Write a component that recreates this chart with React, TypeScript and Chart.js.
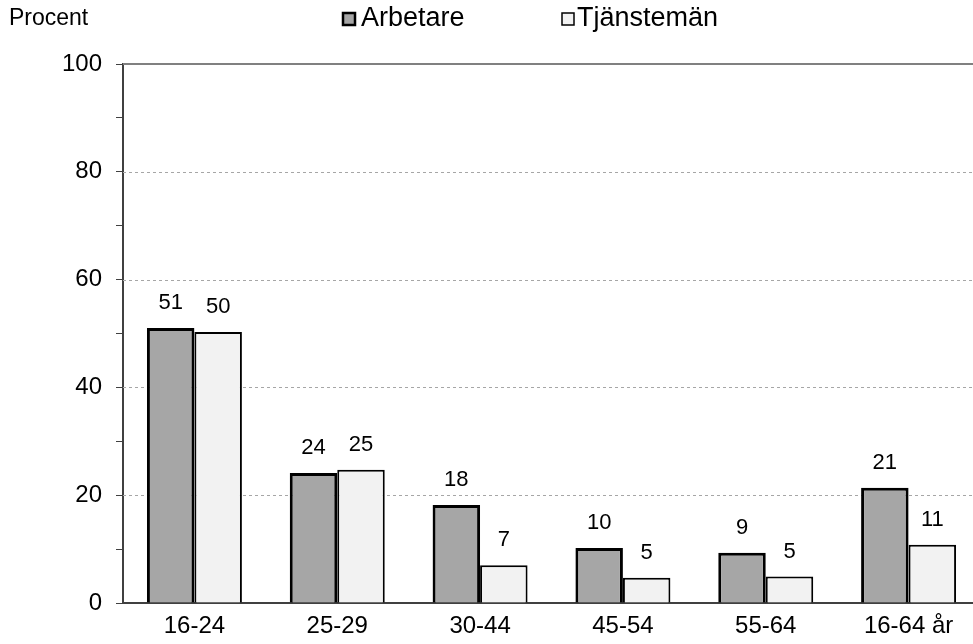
import React, { useEffect, useRef } from "react";
import { Chart, registerables } from "chart.js";

Chart.register(...registerables);

const categories = ["16-24", "25-29", "30-44", "45-54", "55-64", "16-64 år"];
const arbetare = [51.0, 24.1, 18.2, 10.2, 9.3, 21.4];
const tjansteman = [50.3, 24.7, 7.0, 4.7, 4.9, 10.8];
const seriesNames = ["Arbetare", "Tjänstemän"];
const gridValues = [20, 40, 60, 80];
const yMax = 100;
const yAxisTitle = "Procent";

const FONT = "'Liberation Sans', Arial, sans-serif";
const FILL_A = "#a6a6a6";
const FILL_T = "#f2f2f2";

const decor = {
  id: "decor",
  beforeDatasetsDraw(chart: any) {
    const { ctx, chartArea, scales } = chart;
    const y = scales.y;
    ctx.save();
    ctx.strokeStyle = "#a6a6a6";
    ctx.lineWidth = 1;
    ctx.setLineDash([3, 3]);
    for (const v of gridValues) {
      const py = Math.round(y.getPixelForValue(v)) + 0.5;
      ctx.beginPath();
      ctx.moveTo(chartArea.left, py);
      ctx.lineTo(chartArea.right, py);
      ctx.stroke();
    }
    ctx.setLineDash([]);
    ctx.strokeStyle = "#808080";
    ctx.lineWidth = 2;
    const pt = Math.round(y.getPixelForValue(yMax));
    ctx.beginPath();
    ctx.moveTo(chartArea.left, pt);
    ctx.lineTo(chartArea.right, pt);
    ctx.stroke();
    ctx.restore();
  },
  afterDatasetsDraw(chart: any) {
    const { ctx } = chart;
    ctx.save();
    ctx.fillStyle = "#000";
    ctx.font = `22px ${FONT}`;
    ctx.textAlign = "center";
    ctx.textBaseline = "middle";
    chart.data.datasets.forEach((ds: any, di: number) => {
      const meta = chart.getDatasetMeta(di);
      meta.data.forEach((el: any, i: number) => {
        ctx.fillText(String(Math.round(ds.data[i])), el.x, el.y - 25);
      });
    });
    ctx.restore();
  },
  afterDraw(chart: any) {
    const { ctx } = chart;
    ctx.save();
    ctx.fillStyle = "#000";
    ctx.textBaseline = "middle";
    ctx.textAlign = "left";
    ctx.font = `23px ${FONT}`;
    ctx.fillText(yAxisTitle, 9, 19);
    // legend
    ctx.font = `27px ${FONT}`;
    const items = [
      { x: 343, tx: 361, fill: FILL_A, lw: 2.5 },
      { x: 562, tx: 577, fill: FILL_T, lw: 1.5 },
    ];
    items.forEach((it, i) => {
      ctx.fillStyle = it.fill;
      ctx.fillRect(it.x, 13, 12, 12);
      ctx.strokeStyle = "#000";
      ctx.lineWidth = it.lw;
      ctx.strokeRect(it.x, 13, 12, 12);
      ctx.fillStyle = "#000";
      ctx.fillText(seriesNames[i], it.tx, 19);
    });
    ctx.restore();
  },
};

export default function App() {
  const ref = useRef<HTMLCanvasElement | null>(null);
  useEffect(() => {
    if (!ref.current) return;
    const chart = new Chart(ref.current, {
      type: "bar",
      data: {
        labels: categories,
        datasets: [
          {
            label: seriesNames[0],
            data: arbetare,
            backgroundColor: FILL_A,
            borderColor: "#000",
            borderWidth: 3,
            barPercentage: 1,
            categoryPercentage: 0.665,
          },
          {
            label: seriesNames[1],
            data: tjansteman,
            backgroundColor: FILL_T,
            borderColor: "#000",
            borderWidth: 2,
            barPercentage: 1,
            categoryPercentage: 0.665,
          },
        ],
      },
      options: {
        responsive: false,
        animation: false,
        layout: { padding: { top: 64, left: 0, right: 0, bottom: 0 } },
        plugins: {
          legend: { display: false },
          tooltip: { enabled: false },
        },
        scales: {
          x: {
            grid: { display: false, drawTicks: false },
            border: { display: true, color: "#404040", width: 2 },
            ticks: {
              color: "#000",
              font: { family: FONT, size: 24 },
              padding: 9,
              maxRotation: 0,
              autoSkip: false,
            },
            afterFit: (s: any) => {
              s.height = 41;
            },
          },
          y: {
            min: 0,
            max: yMax,
            ticks: {
              stepSize: 10,
              autoSkip: false,
              padding: 14,
              color: "#000",
              font: { family: FONT, size: 24 },
              callback: (v: any) => (Number(v) % 20 === 0 ? String(v) : ""),
            },
            grid: {
              drawOnChartArea: false,
              drawTicks: true,
              tickLength: 7,
              tickColor: "#404040",
              lineWidth: 1,
            },
            border: { display: true, color: "#404040", width: 2 },
            afterFit: (s: any) => {
              s.width = 123;
            },
          },
        },
      },
      plugins: [decor],
    });
    return () => chart.destroy();
  }, []);
  return (
    <div
      style={{
        position: "fixed",
        left: 0,
        top: 0,
        width: 973,
        height: 644,
        overflow: "hidden",
        background: "#fff",
      }}
    >
      <canvas ref={ref} width={980} height={644} style={{ display: "block" }} />
    </div>
  );
}
